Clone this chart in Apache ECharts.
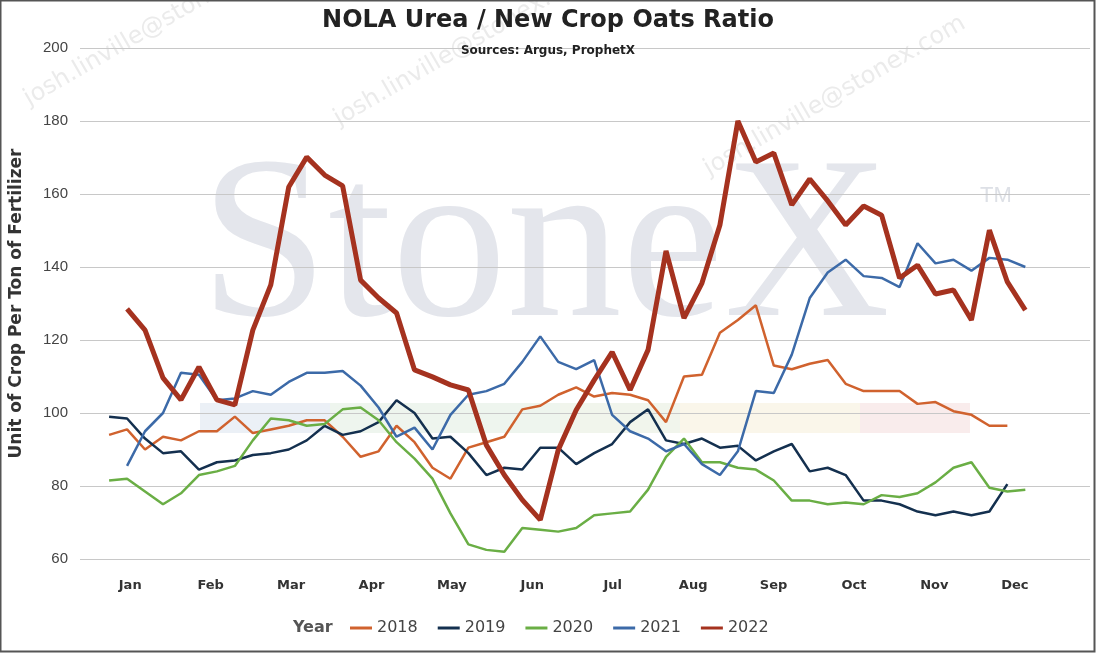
<!DOCTYPE html>
<html><head><meta charset="utf-8">
<script src="https://cdn.jsdelivr.net/npm/echarts@6/dist/echarts.min.js"></script>
<style>html,body{margin:0;padding:0;background:#fff}#c{width:1096px;height:653px}</style>
</head><body><div id="c"></div>
<script>
const months=['Jan','Feb','Mar','Apr','May','Jun','Jul','Aug','Sep','Oct','Nov','Dec'];
const years=['2018','2019','2020','2021','2022'];
const startWeek={'2018':0,'2019':0,'2020':0,'2021':1,'2022':1};
const colors={'2018':'#d0622e','2019':'#14304f','2020':'#6aae45','2021':'#3c6aa8','2022':'#a5321f'};
const v2018=[94,95.5,90,93.5,92.5,95,95,99,94.5,95.5,96.5,98,98,93.5,88,89.5,96.5,92,85,82,90.5,92,93.5,101,102,105,107,104.5,105.5,105,103.5,97.5,110,110.5,122,125.5,129.5,113,112,113.5,114.5,108,106,106,106,102.5,103,100.5,99.5,96.5,96.5];
const v2019=[99,98.5,93,89,89.5,84.5,86.5,87,88.5,89,90,92.5,96.5,94,95,97.5,103.5,100,93,93.5,89,83,85,84.5,90.5,90.5,86,89,91.5,97.5,101,92.5,91.5,93,90.5,91,87,89.5,91.5,84,85,83,76,76,75,73,72,73,72,73,80.5];
const v2020=[81.5,82,78.5,75,78,83,84,85.5,92.5,98.5,98,96.5,97,101,101.5,98,92,87.5,82,72.5,64,62.5,62,68.5,68,67.5,68.5,72,72.5,73,79,88,93,86.5,86.5,85,84.5,81.5,76,76,75,75.5,75,77.5,77,78,81,85,86.5,79.5,78.5,79];
const v2021=[85.5,95,100,111,110.5,103.5,104,106,105,108.5,111,111,111.5,107.5,101.5,93.5,96,90,99.5,105,106,108,114,121,114,112,114.5,99.5,95,93,89.5,91.5,86,83,89.5,106,105.5,116,131.5,138.5,142,137.5,137,134.5,146.5,141,142,139,142.5,142,140];
const v2022=[128.5,122.7,109.6,103.6,112.6,103.6,102.2,122.7,135.1,161.9,170.1,165.2,162.2,136.4,131.5,127.4,111.8,109.9,107.7,106.3,91.2,83,76.2,70.7,89.9,100.8,109,116.7,106.3,117.3,144.4,126,135.6,151.5,180,168.8,171.2,157,164.1,158.1,151.5,156.7,154.2,137,140.5,132.6,133.7,125.5,150.1,135.9,128.2];
const vals={'2018':v2018,'2019':v2019,'2020':v2020,'2021':v2021,'2022':v2022};
const chart=echarts.init(document.getElementById('c'));
const series=years.map(y=>({name:y,type:'line',xAxisIndex:0,yAxisIndex:0,showSymbol:false,
  lineStyle:{width:y==='2022'?5:2.5,color:colors[y]},itemStyle:{color:colors[y]},z:y==='2022'?5:3,
  data:vals[y].map((v,i)=>[startWeek[y]+i,v])}));
const wm=[];
const bands=[['#dde6f0',200,330],['#e2eee2',330,560],['#e8efdf',560,680],['#f7f0dc',680,860],['#f5e0e0',860,970]];
bands.forEach(b=>wm.push({type:'rect',shape:{x:b[1],y:403,width:b[2]-b[1],height:30},style:{fill:b[0],opacity:0.6},z:-1}));
wm.push({type:'text',left:200,top:140,z:-1,style:{text:'StoneX',font:'230px "Liberation Serif", serif',fill:'#e4e6ec'}});
wm.push({type:'text',left:980,top:185,z:-1,style:{text:'TM',font:'22px sans-serif',fill:'#dde0e6'}});
[[20,90],[330,110],[700,160]].forEach(p=>wm.push({type:'text',x:p[0],y:p[1],rotation:Math.PI/6,z:-1,style:{text:'josh.linville@stonex.com',font:'24px "DejaVu Sans"',fill:'#ebebeb'}}));
wm.push({type:'rect',shape:{x:0.5,y:0.5,width:1094,height:651},style:{fill:'none',stroke:'#555',lineWidth:2},z:10});
wm.push({type:'text',left:293,top:620,style:{text:'Year',font:'bold 16px "DejaVu Sans"',fill:'#555'}});
chart.setOption({
  animation:false,
  title:{text:'NOLA Urea / New Crop Oats Ratio',subtext:'Sources: Argus, ProphetX',left:'center',top:4,itemGap:12,
    textStyle:{fontSize:24,fontWeight:'bold',color:'#222',fontFamily:'Verdana, "DejaVu Sans"'},
    subtextStyle:{fontSize:12,fontWeight:'bold',color:'#222',fontFamily:'"DejaVu Sans"'}},
  graphic:wm,
  legend:{data:years,bottom:12,left:345,itemWidth:22,itemHeight:3,itemGap:20,icon:'rect',
    textStyle:{fontSize:16,color:'#444',fontFamily:'"DejaVu Sans"'}},
  grid:[{left:80,right:6,top:48,bottom:94,containLabel:false},{left:90,right:41,top:48,bottom:94}],
  xAxis:[{type:'value',gridIndex:0,min:-1.62,max:54.6,show:false},
    {type:'category',gridIndex:1,data:months,boundaryGap:true,axisLine:{show:false},axisTick:{show:false},
     axisLabel:{fontSize:13,fontWeight:'bold',color:'#333',margin:20,fontFamily:'"DejaVu Sans"'}}],
  yAxis:[{type:'value',gridIndex:0,min:60,max:200,interval:20,name:'Unit of Crop Per Ton of Fertilizer',nameLocation:'middle',nameGap:55,
    nameTextStyle:{fontSize:17,fontWeight:'bold',color:'#333',fontFamily:'"DejaVu Sans"'},
    axisLine:{show:false},axisTick:{show:false},axisLabel:{fontSize:15,color:'#444',margin:12},
    splitLine:{lineStyle:{color:'#c8c8c8'}}},
    {type:'value',gridIndex:1,min:60,max:200,show:false}],
  series:series
});
</script></body></html>
